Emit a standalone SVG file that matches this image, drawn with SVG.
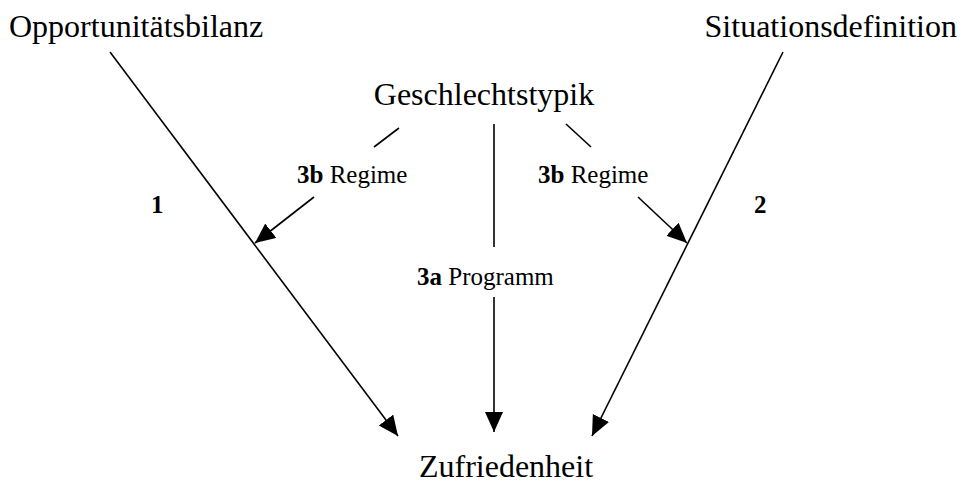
<svg xmlns="http://www.w3.org/2000/svg" width="962" height="485" viewBox="0 0 962 485">
<style>
text{font-family:"Liberation Serif","Times New Roman",serif;fill:#000}
.big{font-size:32px}
.mid{font-size:25px}
.b{font-weight:bold}
.ln{stroke:#000;stroke-width:1.6;fill:none}
</style>
<defs>
<marker id="ah" markerUnits="userSpaceOnUse" markerWidth="22" markerHeight="20" refX="20" refY="9" orient="auto">
<path d="M0,0 L20,9 L0,18 z" fill="#000"/>
</marker>
</defs>
<rect width="962" height="485" fill="#fff"/>
<g id="n-opportunitaet"><text class="big" x="9" y="37">Opportunitätsbilanz</text></g>
<g id="n-situation"><text class="big" x="957" y="37" text-anchor="end">Situationsdefinition</text></g>
<g id="n-geschlecht"><text class="big" x="484" y="105" text-anchor="middle">Geschlechtstypik</text></g>
<g id="n-zufriedenheit"><text class="big" x="506" y="477" text-anchor="middle">Zufriedenheit</text></g>
<g id="connectors">
<line class="ln" x1="110" y1="52" x2="398" y2="436" marker-end="url(#ah)"/>
<line class="ln" x1="783" y1="52" x2="592" y2="436" marker-end="url(#ah)"/>
<line class="ln" x1="494" y1="124" x2="494" y2="247"/>
<line class="ln" x1="494" y1="297" x2="494" y2="432" marker-end="url(#ah)"/>
<line class="ln" x1="399" y1="128" x2="374" y2="147"/>
<line class="ln" x1="314" y1="197" x2="255" y2="243" marker-end="url(#ah)"/>
<line class="ln" x1="566" y1="124" x2="591" y2="147"/>
<line class="ln" x1="638" y1="197" x2="687" y2="243" marker-end="url(#ah)"/>
</g>
<g id="labels">
<text class="mid" x="297" y="183"><tspan class="b">3b</tspan> Regime</text>
<text class="mid" x="538" y="183"><tspan class="b">3b</tspan> Regime</text>
<text class="mid" x="417" y="285"><tspan class="b">3a</tspan> Programm</text>
<text class="mid b" x="151" y="213">1</text>
<text class="mid b" x="754" y="213">2</text>
</g>
</svg>
